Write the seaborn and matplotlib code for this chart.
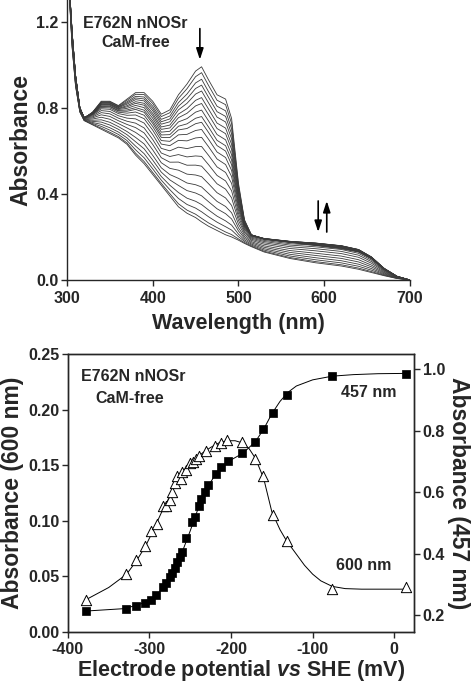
import numpy as np
import pandas as pd
import matplotlib
matplotlib.use("Agg")
import matplotlib.pyplot as plt
import seaborn as sns

# ---- top panel: spectra read at anchor wavelengths (nm) ----
wavelength = [300, 303, 306, 310, 315, 320, 330, 340, 350, 360, 370, 380, 390, 400,
              410, 420, 430, 440, 450, 457, 465, 475, 485, 492, 500, 507, 515, 530,
              560, 590, 620, 640, 655, 670, 685, 700]
spec_oxidized = [1.60, 1.35, 1.15, 0.95, 0.80, 0.75, 0.78, 0.83, 0.83, 0.81, 0.84, 0.87, 0.87, 0.83,
                 0.77, 0.79, 0.86, 0.91, 0.97, 0.99, 0.93, 0.86, 0.84, 0.75, 0.45, 0.28, 0.21, 0.19,
                 0.175, 0.16, 0.145, 0.13, 0.10, 0.05, 0.015, 0.0]
spec_semiq = [1.60, 1.35, 1.15, 0.95, 0.80, 0.76, 0.77, 0.80, 0.80, 0.78, 0.76, 0.76, 0.74, 0.68,
              0.61, 0.60, 0.62, 0.60, 0.60, 0.60, 0.56, 0.50, 0.47, 0.42, 0.30, 0.24, 0.21, 0.20,
              0.19, 0.19, 0.18, 0.16, 0.12, 0.06, 0.02, 0.0]
spec_reduced = [1.60, 1.30, 1.08, 0.90, 0.78, 0.74, 0.72, 0.70, 0.68, 0.66, 0.63, 0.58, 0.54, 0.49,
                0.44, 0.39, 0.34, 0.31, 0.29, 0.27, 0.25, 0.23, 0.21, 0.20, 0.185, 0.17, 0.155, 0.13,
                0.10, 0.08, 0.065, 0.05, 0.035, 0.02, 0.007, 0.0]
# fraction of each species along the titration (one entry per recorded spectrum)
frac_oxidized = [1.00, 0.93, 0.86, 0.79, 0.72, 0.65, 0.58, 0.51, 0.45, 0.39, 0.33,
                 0.27, 0.22, 0.17, 0.13, 0.09, 0.06, 0.04, 0.02, 0.01, 0.00, 0.00]
frac_semiq = [0.00, 0.07, 0.13, 0.20, 0.27, 0.33, 0.40, 0.46, 0.50, 0.55, 0.58,
              0.60, 0.58, 0.55, 0.50, 0.44, 0.36, 0.28, 0.20, 0.12, 0.05, 0.00]

# ---- bottom panel: redox titration ----
pot_457 = [-378.3, -328.4, -316.2, -305.1, -298.6, -291.6, -283.4, -279.3, -275.3, -272.0,
           -269.1, -265.8, -263.0, -260.1, -254.8, -247.8, -244.6, -239.7, -236.4, -232.3,
           -228.2, -218.8, -211.8, -203.7, -186.1, -170.9, -160.7, -149.2, -132.0, -76.0, 14.3]
abs_457 = [0.214, 0.222, 0.230, 0.241, 0.251, 0.266, 0.292, 0.306, 0.323, 0.339,
           0.355, 0.374, 0.390, 0.406, 0.450, 0.502, 0.520, 0.556, 0.577, 0.602,
           0.623, 0.659, 0.683, 0.701, 0.726, 0.764, 0.805, 0.857, 0.916, 0.976, 0.985]
pot_600 = [-378.3, -328.4, -316.2, -305.1, -298.6, -290.8, -283.4, -279.3, -274.4, -272.4,
           -269.1, -266.3, -261.8, -259.8, -254.8, -249.9, -246.7, -242.6, -239.7, -230.3,
           -219.2, -212.7, -204.5, -186.1, -170.9, -160.7, -149.2, -132.0, -76.0, 14.3]
abs_600 = [0.029, 0.052, 0.065, 0.0775, 0.091, 0.097, 0.113, 0.113, 0.119, 0.126,
           0.134, 0.140, 0.138, 0.144, 0.146, 0.152, 0.153, 0.156, 0.158, 0.163,
           0.167, 0.170, 0.173, 0.171, 0.156, 0.140, 0.105, 0.082, 0.039, 0.0406]
# fitted Nernst curves as drawn
fit457_x = [-378, -330, -310, -300, -290, -280, -270, -260, -250, -240, -230, -220, -210,
            -200, -190, -180, -170, -160, -150, -140, -130, -120, -100, -76, -50, -20, 14]
fit457_y = [0.214, 0.222, 0.238, 0.250, 0.270, 0.300, 0.345, 0.405, 0.475, 0.550, 0.610, 0.655, 0.685,
            0.705, 0.720, 0.740, 0.765, 0.805, 0.855, 0.895, 0.925, 0.945, 0.965, 0.977, 0.982, 0.985, 0.986]
fit600_x = [-378, -350, -328, -316, -305, -295, -285, -275, -265, -255, -245, -235, -225, -215,
            -205, -195, -186, -178, -170, -160, -150, -140, -132, -120, -110, -100, -90, -76,
            -60, -40, -20, 14]
fit600_y = [0.029, 0.040, 0.052, 0.064, 0.077, 0.092, 0.108, 0.122, 0.137, 0.147, 0.155, 0.161, 0.166, 0.170,
            0.172, 0.172, 0.170, 0.165, 0.156, 0.138, 0.108, 0.092, 0.082, 0.070, 0.060, 0.052, 0.046, 0.041,
            0.039, 0.0385, 0.0385, 0.0385]

sns.set_theme(style="ticks")
plt.rcParams['font.family'] = ['Liberation Sans', 'DejaVu Sans']
plt.rcParams['font.weight'] = 'bold'
plt.rcParams['axes.labelweight'] = 'bold'
plt.rcParams['axes.unicode_minus'] = False
plt.rcParams['mathtext.fontset'] = 'custom'
plt.rcParams['mathtext.it'] = 'Liberation Sans:italic:bold'
plt.rcParams['axes.linewidth'] = 1.0
plt.rcParams['xtick.major.width'] = 1.0
plt.rcParams['ytick.major.width'] = 1.0
plt.rcParams['xtick.major.size'] = 4
plt.rcParams['ytick.major.size'] = 4

TICK = 11.5
XLAB = 15.5
YLAB = 16.5
NOTE = 11.5

fig = plt.figure(figsize=(4.75, 6.83), dpi=100)

# ----- top: spectra -----
ax = fig.add_axes([0.141, 0.590, 0.722, 0.410])
ox = np.array(spec_oxidized)
sq = np.array(spec_semiq)
rd = np.array(spec_reduced)
rows = []
for i, (fo, fs) in enumerate(zip(frac_oxidized, frac_semiq)):
    vals = fo * ox + fs * sq + (1 - fo - fs) * rd
    rows.append(pd.DataFrame({'wl': wavelength, 'A': vals, 'trace': i}))
spec_df = pd.concat(rows, ignore_index=True)
sns.lineplot(data=spec_df, x='wl', y='A', units='trace', estimator=None,
             color='#3a3a3a', lw=0.6, legend=False, ax=ax)
ax.set_xlim(300, 700)
ax.set_ylim(0, 1.30)
ax.set_xticks([300, 400, 500, 600, 700])
ax.set_yticks([0.0, 0.4, 0.8, 1.2])
ax.set_yticklabels(['0.0', '0.4', '0.8', '1.2'])
sns.despine(ax=ax)
ax.tick_params(labelsize=TICK, direction='out', pad=2)
ax.tick_params(axis='x', pad=4)
for lab in ax.get_xticklabels() + ax.get_yticklabels():
    lab.set_fontweight('bold')
ax.set_xlabel('Wavelength (nm)', fontsize=XLAB, labelpad=5)
ax.set_ylabel('Absorbance', fontsize=YLAB, labelpad=3)
ax.text(380, 1.19, 'E762N nNOSr', ha='center', va='center', fontsize=NOTE, fontweight='bold')
ax.text(380, 1.105, 'CaM-free', ha='center', va='center', fontsize=NOTE, fontweight='bold')
arrow_kw = dict(arrowstyle='-|>,head_length=0.55,head_width=0.18', color='black', lw=1.2)
ax.annotate('', xy=(455, 1.01), xytext=(455, 1.18), arrowprops=arrow_kw)
ax.annotate('', xy=(593, 0.21), xytext=(593, 0.38), arrowprops=arrow_kw)
ax.annotate('', xy=(603, 0.38), xytext=(603, 0.21), arrowprops=arrow_kw)

# ----- bottom: titration -----
bx = fig.add_axes([0.143, 0.0747, 0.729, 0.407])
bx2 = bx.twinx()
sns.lineplot(x=fit600_x, y=fit600_y, color='black', lw=0.7, ax=bx)
sns.scatterplot(x=pot_600, y=abs_600, marker='^', s=55, facecolor='white',
                edgecolor='black', linewidth=0.7, ax=bx, zorder=3)
sns.lineplot(x=fit457_x, y=fit457_y, color='black', lw=0.7, ax=bx2)
sns.scatterplot(x=pot_457, y=abs_457, marker='s', s=30, color='black',
                edgecolor='black', linewidth=0.5, ax=bx2, zorder=3)
bx.set_xlim(-400, 24.5)
bx.set_ylim(0, 0.25)
bx2.set_ylim(0.146, 1.049)
bx.set_xticks([-400, -300, -200, -100, 0])
bx.set_yticks([0.00, 0.05, 0.10, 0.15, 0.20, 0.25])
bx.set_yticklabels(['0.00', '0.05', '0.10', '0.15', '0.20', '0.25'])
bx2.set_yticks([0.2, 0.4, 0.6, 0.8, 1.0])
bx2.set_yticklabels(['0.2', '0.4', '0.6', '0.8', '1.0'])
for a in (bx, bx2):
    a.tick_params(labelsize=TICK, direction='out', pad=2)
    for lab in a.get_xticklabels() + a.get_yticklabels():
        lab.set_fontweight('bold')
    for sp in a.spines.values():
        sp.set_visible(True)
        sp.set_linewidth(1.0)
bx.tick_params(axis='x', pad=3)
bx.set_xlabel(r'Electrode potential $\mathit{vs}$ SHE (mV)', fontsize=XLAB, labelpad=1)
bx.set_ylabel('Absorbance (600 nm)', fontsize=YLAB, labelpad=3)
bx2.set_ylabel('Absorbance (457 nm)', fontsize=YLAB, rotation=270, labelpad=18)
bx.text(-320, 0.230, 'E762N nNOSr', ha='center', va='center', fontsize=NOTE, fontweight='bold')
bx.text(-324, 0.210, 'CaM-free', ha='center', va='center', fontsize=NOTE, fontweight='bold')
bx.text(-31, 0.215, '457 nm', ha='center', va='center', fontsize=NOTE, fontweight='bold')
bx.text(-38, 0.060, '600 nm', ha='center', va='center', fontsize=NOTE, fontweight='bold')

fig.savefig('out.png', dpi=100)
